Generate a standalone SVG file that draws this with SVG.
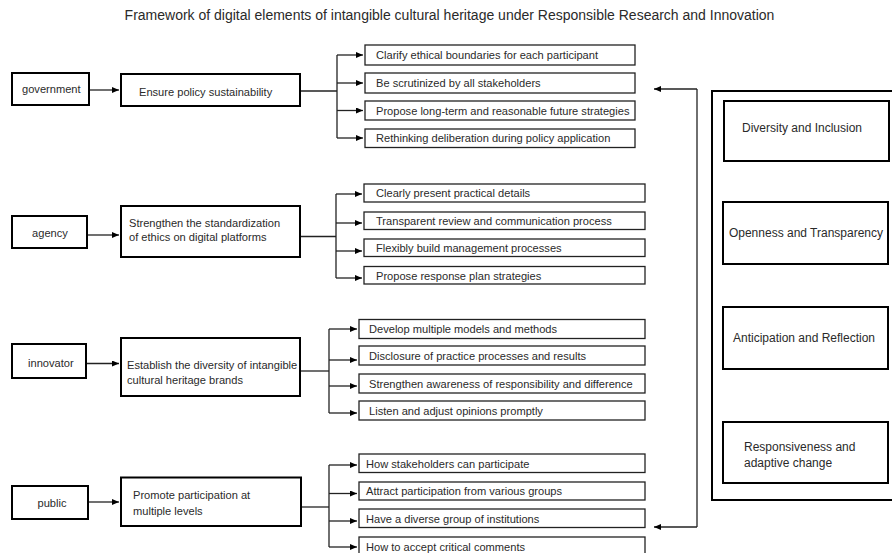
<svg xmlns="http://www.w3.org/2000/svg" width="892" height="553" viewBox="0 0 892 553">
<defs>
<marker id="ah" markerUnits="userSpaceOnUse" markerWidth="7" markerHeight="6" refX="7" refY="3" orient="auto">
<path d="M0,0 L7,3 L0,6 z" fill="#000"/>
</marker>
<style>
text{font-family:"Liberation Sans",Arial,sans-serif;fill:#2a2a2a;}
.t{font-size:14px;}
.s{font-size:11.1px;}
.m{font-size:12px;}
.lb{fill:#fff;stroke:#000;stroke-width:2;}
.rb{fill:#fff;stroke:#222;stroke-width:1.3;}
.bb{fill:none;stroke:#000;stroke-width:2;}
.c{fill:none;stroke:#222;stroke-width:1.3;}
.a{fill:none;stroke:#222;stroke-width:1.3;marker-end:url(#ah);}
</style>
</defs>
<rect width="892" height="553" fill="#fff"/>
<text class="t" x="449.5" y="20" text-anchor="middle">Framework of digital elements of intangible cultural heritage under Responsible Research and Innovation</text>

<g id="connectors">
<!-- government -->
<line class="a" x1="89" y1="90" x2="119" y2="90"/>
<polyline class="c" points="300,91 337,91"/>
<line class="c" x1="337" y1="55" x2="337" y2="138"/>
<line class="a" x1="337" y1="55" x2="363" y2="55"/>
<line class="a" x1="337" y1="83" x2="363" y2="83"/>
<line class="a" x1="337" y1="110.5" x2="363" y2="110.5"/>
<line class="a" x1="337" y1="138" x2="363" y2="138"/>
<!-- agency -->
<line class="a" x1="87" y1="235" x2="119" y2="235"/>
<polyline class="c" points="300,236.5 336,236.5"/>
<line class="c" x1="336" y1="194" x2="336" y2="278"/>
<line class="a" x1="336" y1="194" x2="362" y2="194"/>
<line class="a" x1="336" y1="223" x2="362" y2="223"/>
<line class="a" x1="336" y1="251" x2="362" y2="251"/>
<line class="a" x1="336" y1="278" x2="362" y2="278"/>
<!-- innovator -->
<line class="a" x1="86" y1="363.5" x2="119" y2="363.5"/>
<polyline class="c" points="300,371 329,371"/>
<line class="c" x1="329" y1="329" x2="329" y2="413"/>
<line class="a" x1="329" y1="329" x2="357" y2="329"/>
<line class="a" x1="329" y1="360" x2="357" y2="360"/>
<line class="a" x1="329" y1="386" x2="357" y2="386"/>
<line class="a" x1="329" y1="413" x2="357" y2="413"/>
<!-- public -->
<line class="a" x1="88" y1="502" x2="119" y2="502"/>
<polyline class="c" points="301,507 329,507"/>
<line class="c" x1="329" y1="465" x2="329" y2="547"/>
<line class="a" x1="329" y1="465" x2="357" y2="465"/>
<line class="a" x1="329" y1="493.5" x2="357" y2="493.5"/>
<line class="a" x1="329" y1="521" x2="357" y2="521"/>
<line class="a" x1="329" y1="547" x2="357" y2="547"/>
<!-- feedback -->
<line class="c" x1="697" y1="89" x2="697" y2="527"/>
<line class="a" x1="697" y1="89" x2="654" y2="89"/>
<line class="a" x1="697" y1="527" x2="654" y2="527"/>
</g>

<g id="government">
<rect class="lb" x="12" y="73" width="77" height="32"/>
<text class="s" x="22" y="93">government</text>
</g>
<g id="policy">
<rect class="lb" x="121" y="74" width="179" height="32"/>
<text class="s" x="139" y="95.5">Ensure policy sustainability</text>
</g>
<g id="g1">
<rect class="rb" x="365" y="45" width="270" height="20"/>
<text class="s" x="376" y="59">Clarify ethical boundaries for each participant</text>
</g>
<g id="g2">
<rect class="rb" x="365" y="73" width="270" height="20"/>
<text class="s" x="376" y="87">Be scrutinized by all stakeholders</text>
</g>
<g id="g3">
<rect class="rb" x="365" y="101" width="270" height="19"/>
<text class="s" x="376" y="114.5">Propose long-term and reasonable future strategies</text>
</g>
<g id="g4">
<rect class="rb" x="365" y="129" width="270" height="18.5"/>
<text class="s" x="376" y="142">Rethinking deliberation during policy application</text>
</g>

<g id="agency">
<rect class="lb" x="12" y="216" width="75" height="32"/>
<text class="s" x="50" y="236.5" text-anchor="middle">agency</text>
</g>
<g id="ethics">
<rect class="lb" x="121" y="206" width="179" height="51"/>
<text class="s" x="129" y="226.5">Strengthen the standardization</text>
<text class="s" x="129" y="240.5">of ethics on digital platforms</text>
</g>
<g id="a1">
<rect class="rb" x="364" y="184" width="281" height="18"/>
<text class="s" x="376" y="197">Clearly present practical details</text>
</g>
<g id="a2">
<rect class="rb" x="364" y="212" width="281" height="17.5"/>
<text class="s" x="376" y="225">Transparent review and communication process</text>
</g>
<g id="a3">
<rect class="rb" x="364" y="239" width="281" height="17.5"/>
<text class="s" x="376" y="252">Flexibly build management processes</text>
</g>
<g id="a4">
<rect class="rb" x="364" y="266.5" width="281" height="17.5"/>
<text class="s" x="376" y="279.5">Propose response plan strategies</text>
</g>

<g id="innovator">
<rect class="lb" x="12" y="344" width="74" height="34"/>
<text class="s" x="28" y="366.5">innovator</text>
</g>
<g id="brands">
<rect class="lb" x="121" y="338" width="179" height="58"/>
<text class="s" x="127" y="369">Establish the diversity of intangible</text>
<text class="s" x="127" y="384">cultural heritage brands</text>
</g>
<g id="i1">
<rect class="rb" x="359" y="319.5" width="286" height="19"/>
<text class="s" x="369" y="333">Develop multiple models and methods</text>
</g>
<g id="i2">
<rect class="rb" x="359" y="346" width="286" height="19"/>
<text class="s" x="369" y="359.5">Disclosure of practice processes and results</text>
</g>
<g id="i3">
<rect class="rb" x="359" y="374" width="286" height="19"/>
<text class="s" x="369" y="387.5">Strengthen awareness of responsibility and difference</text>
</g>
<g id="i4">
<rect class="rb" x="359" y="401" width="286" height="19"/>
<text class="s" x="369" y="414.5">Listen and adjust opinions promptly</text>
</g>

<g id="public">
<rect class="lb" x="12" y="486" width="76" height="33"/>
<text class="s" x="52" y="506.5" text-anchor="middle">public</text>
</g>
<g id="participation">
<rect class="lb" x="121" y="477.5" width="180" height="48.5"/>
<text class="s" x="133" y="499">Promote participation at</text>
<text class="s" x="133" y="514.5">multiple levels</text>
</g>
<g id="p1">
<rect class="rb" x="359" y="454" width="286" height="18.5"/>
<text class="s" x="366" y="467.5">How stakeholders can participate</text>
</g>
<g id="p2">
<rect class="rb" x="359" y="482" width="286" height="18"/>
<text class="s" x="366" y="495">Attract participation from various groups</text>
</g>
<g id="p3">
<rect class="rb" x="359" y="509" width="286" height="18.5"/>
<text class="s" x="366" y="522.5">Have a diverse group of institutions</text>
</g>
<g id="p4">
<rect class="rb" x="359" y="537" width="286" height="20"/>
<text class="s" x="366" y="550.5">How to accept critical comments</text>
</g>

<g id="principles">
<rect class="bb" x="712" y="91" width="200" height="409"/>
</g>
<g id="diversity">
<rect class="lb" x="724" y="101" width="165" height="60"/>
<text class="m" x="802" y="131.5" text-anchor="middle">Diversity and Inclusion</text>
</g>
<g id="openness">
<rect class="lb" x="723" y="202" width="165" height="62"/>
<text class="m" x="806" y="237" text-anchor="middle">Openness and Transparency</text>
</g>
<g id="anticipation">
<rect class="lb" x="723" y="307" width="165" height="62"/>
<text class="m" x="804" y="342" text-anchor="middle">Anticipation and Reflection</text>
</g>
<g id="responsiveness">
<rect class="lb" x="723" y="422" width="165" height="61"/>
<text class="m" x="744" y="451">Responsiveness and</text>
<text class="m" x="744" y="467">adaptive change</text>
</g>
</svg>
